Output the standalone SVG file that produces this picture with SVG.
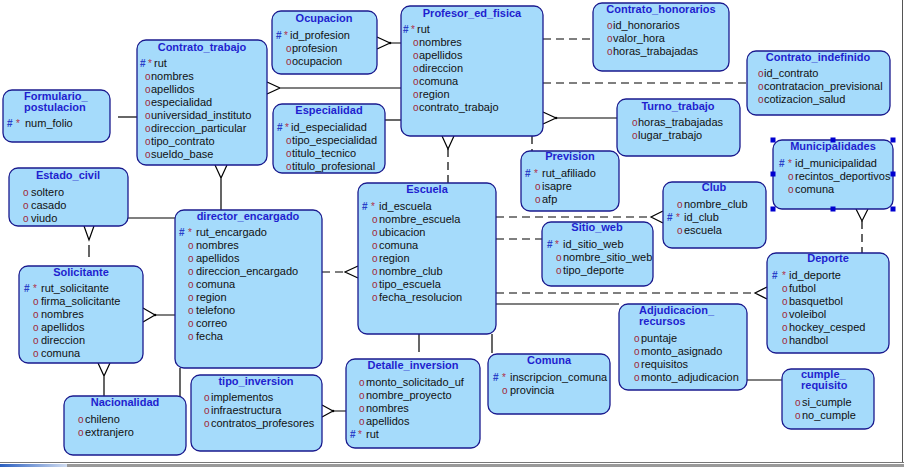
<svg xmlns="http://www.w3.org/2000/svg" width="904" height="467" viewBox="0 0 904 467">
<defs>
<style>
.box rect{fill:#a5dbfb;stroke:#1a1a8e;stroke-width:1.3}
.box rect.hd{fill:#0000d0;stroke:none}
.t{font:bold 11px "Liberation Sans",Arial,sans-serif;fill:#1f1fcf;text-anchor:middle}
.ts{font:bold 11px "Liberation Sans",Arial,sans-serif;fill:#1f1fcf}
.i{font:11px "Liberation Sans",Arial,sans-serif;fill:#111}
.h{fill:#2a3fc8;font-size:10px;font-weight:bold}
.s{fill:#b0304a;font-size:10px}
.o{fill:#a02838;font-size:10px}
.ln{stroke:#000;stroke-width:1.2;fill:none}
.d{stroke-dasharray:8 5}
.dot{fill:#000}
</style>
<linearGradient id="bg" x1="0" x2="1" y1="0" y2="0"><stop offset="0" stop-color="#2a5fc0"/><stop offset="1" stop-color="#d0dcf0"/></linearGradient>
</defs>
<rect x="0" y="0" width="904" height="467" fill="#fff"/>

<g id="connectors">
<path class="ln" d="M118 117H137"/>
<path class="ln" d="M267 82L280 88L267 94M280 88H401"/>
<path class="ln" d="M377 37L390 43L377 49M390 43H401"/><circle class="dot" cx="390" cy="43" r="1.3"/>
<path class="ln" d="M385 120H401"/>
<path class="ln" d="M442 136L448 149L454 136"/><path class="ln d" d="M448 149V183"/>
<path class="ln d" d="M543 39H593"/>
<path class="ln d" d="M543 83H747"/>
<path class="ln" d="M543 112L556 118L543 124M556 118H617"/><circle class="dot" cx="556" cy="118" r="1.3"/>
<path class="ln d" d="M532 136V151"/>
<path class="ln d" d="M496 217H651"/><path class="ln" d="M663 211L651 217L663 223"/>
<path class="ln d" d="M496 239H542"/>
<path class="ln d" d="M496 293H755"/><path class="ln" d="M767 287L755 293L767 299"/>
<path class="ln" d="M496 304H619"/>
<path class="ln d" d="M322 272H345"/><path class="ln" d="M358 266L345 272L358 278"/>
<path class="ln" d="M419 334V352"/>
<path class="ln" d="M492 334V353"/>
<path class="ln" d="M747 380H782"/>
<path class="ln" d="M856 209L862 221L868 209"/><path class="ln d" d="M862 221V253"/>
<path class="ln" d="M215 165L221 178L227 165M221 178V210"/>
<path class="ln" d="M128 218H175"/>
<path class="ln" d="M84 226L89 240L94 226M89 245V257"/>
<path class="ln" d="M143 308L155 315L143 322M155 315H175"/><circle class="dot" cx="155" cy="315" r="1.3"/>
<path class="ln" d="M98 363L104 376L110 363M104 376V396"/>
<path class="ln" d="M180 368V396"/>
<path class="ln" d="M322 405L333 411L322 417M333 411H346"/><circle class="dot" cx="333" cy="411" r="1.3"/>
</g>

<g id="formulario_postulacion" class="box">
<rect x="3" y="90" width="107" height="52" rx="9"/>
<text class="ts" x="24" y="100">Formulario_</text>
<text class="ts" x="24" y="111">postulacion</text>
<text class="i" y="127"><tspan class="h" x="7">#</tspan><tspan class="s" x="16">*</tspan><tspan x="25">num_folio</tspan></text>
</g>

<g id="contrato_trabajo" class="box">
<rect x="137" y="40" width="130" height="125" rx="9"/>
<text class="t" x="202" y="51">Contrato_trabajo</text>
<text class="i" y="67"><tspan class="h" x="140">#</tspan><tspan class="s" x="148">*</tspan><tspan x="154">rut</tspan></text>
<text class="i" y="80"><tspan class="o" x="145">o</tspan><tspan x="151">nombres</tspan></text>
<text class="i" y="93"><tspan class="o" x="145">o</tspan><tspan x="151">apellidos</tspan></text>
<text class="i" y="106"><tspan class="o" x="145">o</tspan><tspan x="151">especialidad</tspan></text>
<text class="i" y="119"><tspan class="o" x="145">o</tspan><tspan x="151">universidad_instituto</tspan></text>
<text class="i" y="132"><tspan class="o" x="145">o</tspan><tspan x="151">direccion_particular</tspan></text>
<text class="i" y="145"><tspan class="o" x="145">o</tspan><tspan x="151">tipo_contrato</tspan></text>
<text class="i" y="158"><tspan class="o" x="145">o</tspan><tspan x="151">sueldo_base</tspan></text>
</g>

<g id="ocupacion" class="box">
<rect x="272" y="11" width="105" height="63" rx="9"/>
<text class="t" x="324" y="22">Ocupacion</text>
<text class="i" y="39"><tspan class="h" x="276">#</tspan><tspan class="s" x="284">*</tspan><tspan x="290">id_profesion</tspan></text>
<text class="i" y="52"><tspan class="o" x="286">o</tspan><tspan x="292">profesion</tspan></text>
<text class="i" y="65"><tspan class="o" x="286">o</tspan><tspan x="292">ocupacion</tspan></text>
</g>

<g id="profesor_ed_fisica" class="box">
<rect x="401" y="6" width="142" height="130" rx="9"/>
<text class="t" x="472" y="17">Profesor_ed_fisica</text>
<text class="i" y="33"><tspan class="h" x="403">#</tspan><tspan class="s" x="411">*</tspan><tspan x="417">rut</tspan></text>
<text class="i" y="46"><tspan class="o" x="413">o</tspan><tspan x="419">nombres</tspan></text>
<text class="i" y="59"><tspan class="o" x="413">o</tspan><tspan x="419">apellidos</tspan></text>
<text class="i" y="72"><tspan class="o" x="413">o</tspan><tspan x="419">direccion</tspan></text>
<text class="i" y="85"><tspan class="o" x="413">o</tspan><tspan x="419">comuna</tspan></text>
<text class="i" y="98"><tspan class="o" x="413">o</tspan><tspan x="419">region</tspan></text>
<text class="i" y="111"><tspan class="o" x="413">o</tspan><tspan x="419">contrato_trabajo</tspan></text>
</g>

<g id="especialidad" class="box">
<rect x="273" y="104" width="112" height="69" rx="9"/>
<text class="t" x="329" y="114">Especialidad</text>
<text class="i" y="131"><tspan class="h" x="277">#</tspan><tspan class="s" x="285">*</tspan><tspan x="291">id_especialidad</tspan></text>
<text class="i" y="144"><tspan class="o" x="286">o</tspan><tspan x="292">tipo_especialidad</tspan></text>
<text class="i" y="157"><tspan class="o" x="286">o</tspan><tspan x="292">titulo_tecnico</tspan></text>
<text class="i" y="170"><tspan class="o" x="286">o</tspan><tspan x="292">titulo_profesional</tspan></text>
</g>

<g id="contrato_honorarios" class="box">
<rect x="593" y="3" width="136" height="68" rx="9"/>
<text class="t" x="661" y="13">Contrato_honorarios</text>
<text class="i" y="29"><tspan class="o" x="607">o</tspan><tspan x="613">id_honorarios</tspan></text>
<text class="i" y="42"><tspan class="o" x="607">o</tspan><tspan x="613">valor_hora</tspan></text>
<text class="i" y="55"><tspan class="o" x="607">o</tspan><tspan x="613">horas_trabajadas</tspan></text>
</g>

<g id="contrato_indefinido" class="box">
<rect x="747" y="51" width="143" height="64" rx="9"/>
<text class="t" x="818" y="61">Contrato_indefinido</text>
<text class="i" y="77"><tspan class="o" x="758">o</tspan><tspan x="764">id_contrato</tspan></text>
<text class="i" y="90"><tspan class="o" x="758">o</tspan><tspan x="764">contratacion_previsional</tspan></text>
<text class="i" y="103"><tspan class="o" x="758">o</tspan><tspan x="764">cotizacion_salud</tspan></text>
</g>

<g id="turno_trabajo" class="box">
<rect x="617" y="99" width="123" height="57" rx="9"/>
<text class="t" x="678" y="110">Turno_trabajo</text>
<text class="i" y="126"><tspan class="o" x="632">o</tspan><tspan x="638">horas_trabajadas</tspan></text>
<text class="i" y="139"><tspan class="o" x="632">o</tspan><tspan x="638">lugar_trabajo</tspan></text>
</g>

<g id="municipalidades" class="box">
<rect x="773" y="140" width="120" height="69" rx="9"/>
<text class="t" x="833" y="150">Municipalidades</text>
<text class="i" y="167"><tspan class="h" x="779">#</tspan><tspan class="s" x="788">*</tspan><tspan x="795">id_municipalidad</tspan></text>
<text class="i" y="180"><tspan class="o" x="788">o</tspan><tspan x="795">recintos_deportivos</tspan></text>
<text class="i" y="193"><tspan class="o" x="788">o</tspan><tspan x="795">comuna</tspan></text>
<rect class="hd" x="770.5" y="137.5" width="5" height="5"/>
<rect class="hd" x="830.5" y="137.5" width="5" height="5"/>
<rect class="hd" x="890.5" y="137.5" width="5" height="5"/>
<rect class="hd" x="770.5" y="171.5" width="5" height="5"/>
<rect class="hd" x="890.5" y="171.5" width="5" height="5"/>
<rect class="hd" x="770.5" y="206.5" width="5" height="5"/>
<rect class="hd" x="830.5" y="206.5" width="5" height="5"/>
<rect class="hd" x="890.5" y="206.5" width="5" height="5"/>
</g>

<g id="club" class="box">
<rect x="663" y="182" width="103" height="66" rx="9"/>
<text class="t" x="714" y="191">Club</text>
<text class="i" y="208"><tspan class="o" x="677">o</tspan><tspan x="684">nombre_club</tspan></text>
<text class="i" y="221"><tspan class="h" x="667">#</tspan><tspan class="s" x="676">*</tspan><tspan x="684">id_club</tspan></text>
<text class="i" y="234"><tspan class="o" x="677">o</tspan><tspan x="684">escuela</tspan></text>
</g>

<g id="deporte" class="box">
<rect x="767" y="253" width="122" height="100" rx="9"/>
<text class="t" x="828" y="262">Deporte</text>
<text class="i" y="279"><tspan class="h" x="772">#</tspan><tspan class="s" x="782">*</tspan><tspan x="789">id_deporte</tspan></text>
<text class="i" y="292"><tspan class="o" x="782">o</tspan><tspan x="789">futbol</tspan></text>
<text class="i" y="305"><tspan class="o" x="782">o</tspan><tspan x="789">basquetbol</tspan></text>
<text class="i" y="318"><tspan class="o" x="782">o</tspan><tspan x="789">voleibol</tspan></text>
<text class="i" y="331"><tspan class="o" x="782">o</tspan><tspan x="789">hockey_cesped</tspan></text>
<text class="i" y="344"><tspan class="o" x="782">o</tspan><tspan x="789">handbol</tspan></text>
</g>

<g id="prevision" class="box">
<rect x="521" y="151" width="98" height="60" rx="9"/>
<text class="t" x="570" y="160">Prevision</text>
<text class="i" y="177"><tspan class="h" x="525">#</tspan><tspan class="s" x="534">*</tspan><tspan x="542">rut_afiliado</tspan></text>
<text class="i" y="190"><tspan class="o" x="535">o</tspan><tspan x="542">isapre</tspan></text>
<text class="i" y="203"><tspan class="o" x="535">o</tspan><tspan x="542">afp</tspan></text>
</g>

<g id="sitio_web" class="box">
<rect x="542" y="222" width="111" height="64" rx="9"/>
<text class="t" x="597" y="231">Sitio_web</text>
<text class="i" y="248"><tspan class="h" x="547">#</tspan><tspan class="s" x="555">*</tspan><tspan x="563">id_sitio_web</tspan></text>
<text class="i" y="261"><tspan class="o" x="556">o</tspan><tspan x="563">nombre_sitio_web</tspan></text>
<text class="i" y="274"><tspan class="o" x="556">o</tspan><tspan x="563">tipo_deporte</tspan></text>
</g>

<g id="escuela" class="box">
<rect x="358" y="183" width="138" height="151" rx="9"/>
<text class="t" x="427" y="193">Escuela</text>
<text class="i" y="210"><tspan class="h" x="362">#</tspan><tspan class="s" x="371">*</tspan><tspan x="379">id_escuela</tspan></text>
<text class="i" y="223"><tspan class="o" x="372">o</tspan><tspan x="379">nombre_escuela</tspan></text>
<text class="i" y="236"><tspan class="o" x="372">o</tspan><tspan x="379">ubicacion</tspan></text>
<text class="i" y="249"><tspan class="o" x="372">o</tspan><tspan x="379">comuna</tspan></text>
<text class="i" y="262"><tspan class="o" x="372">o</tspan><tspan x="379">region</tspan></text>
<text class="i" y="275"><tspan class="o" x="372">o</tspan><tspan x="379">nombre_club</tspan></text>
<text class="i" y="288"><tspan class="o" x="372">o</tspan><tspan x="379">tipo_escuela</tspan></text>
<text class="i" y="301"><tspan class="o" x="372">o</tspan><tspan x="379">fecha_resolucion</tspan></text>
</g>

<g id="adjudicacion_recursos" class="box">
<rect x="619" y="304" width="128" height="86" rx="9"/>
<text class="ts" x="639" y="314">Adjudicacion_</text>
<text class="ts" x="639" y="325">recursos</text>
<text class="i" y="342"><tspan class="o" x="634">o</tspan><tspan x="641">puntaje</tspan></text>
<text class="i" y="355"><tspan class="o" x="634">o</tspan><tspan x="641">monto_asignado</tspan></text>
<text class="i" y="368"><tspan class="o" x="634">o</tspan><tspan x="641">requisitos</tspan></text>
<text class="i" y="381"><tspan class="o" x="634">o</tspan><tspan x="641">monto_adjudicacion</tspan></text>
</g>

<g id="cumple_requisito" class="box">
<rect x="782" y="369" width="92" height="60" rx="9"/>
<text class="ts" x="801" y="378">cumple_</text>
<text class="ts" x="801" y="389">requisito</text>
<text class="i" y="406"><tspan class="o" x="795">o</tspan><tspan x="802">si_cumple</tspan></text>
<text class="i" y="419"><tspan class="o" x="795">o</tspan><tspan x="802">no_cumple</tspan></text>
</g>

<g id="comuna" class="box">
<rect x="488" y="354" width="122" height="60" rx="9"/>
<text class="t" x="549" y="364">Comuna</text>
<text class="i" y="381"><tspan class="h" x="493">#</tspan><tspan class="s" x="502">*</tspan><tspan x="510">inscripcion_comuna</tspan></text>
<text class="i" y="394"><tspan class="o" x="502">o</tspan><tspan x="510">provincia</tspan></text>
</g>

<g id="detalle_inversion" class="box">
<rect x="346" y="359" width="134" height="89" rx="9"/>
<text class="t" x="413" y="369">Detalle_inversion</text>
<text class="i" y="386"><tspan class="o" x="359">o</tspan><tspan x="366">monto_solicitado_uf</tspan></text>
<text class="i" y="399"><tspan class="o" x="359">o</tspan><tspan x="366">nombre_proyecto</tspan></text>
<text class="i" y="412"><tspan class="o" x="359">o</tspan><tspan x="366">nombres</tspan></text>
<text class="i" y="425"><tspan class="o" x="359">o</tspan><tspan x="366">apellidos</tspan></text>
<text class="i" y="438"><tspan class="h" x="350">#</tspan><tspan class="s" x="358">*</tspan><tspan x="366">rut</tspan></text>
</g>

<g id="tipo_inversion" class="box">
<rect x="191" y="375" width="131" height="76" rx="9"/>
<text class="t" x="256" y="385">tipo_inversion</text>
<text class="i" y="401"><tspan class="o" x="204">o</tspan><tspan x="211">implementos</tspan></text>
<text class="i" y="414"><tspan class="o" x="204">o</tspan><tspan x="211">infraestructura</tspan></text>
<text class="i" y="427"><tspan class="o" x="204">o</tspan><tspan x="211">contratos_profesores</tspan></text>
</g>

<g id="nacionalidad" class="box">
<rect x="64" y="396" width="122" height="59" rx="9"/>
<text class="t" x="125" y="406">Nacionalidad</text>
<text class="i" y="423"><tspan class="o" x="78">o</tspan><tspan x="85">chileno</tspan></text>
<text class="i" y="436"><tspan class="o" x="78">o</tspan><tspan x="85">extranjero</tspan></text>
</g>

<g id="director_encargado" class="box">
<rect x="175" y="210" width="147" height="158" rx="9"/>
<text class="t" x="248" y="220">director_encargado</text>
<text class="i" y="236"><tspan class="h" x="179">#</tspan><tspan class="s" x="188">*</tspan><tspan x="196">rut_encargado</tspan></text>
<text class="i" y="249"><tspan class="o" x="188">o</tspan><tspan x="196">nombres</tspan></text>
<text class="i" y="262"><tspan class="o" x="188">o</tspan><tspan x="196">apellidos</tspan></text>
<text class="i" y="275"><tspan class="o" x="188">o</tspan><tspan x="196">direccion_encargado</tspan></text>
<text class="i" y="288"><tspan class="o" x="188">o</tspan><tspan x="196">comuna</tspan></text>
<text class="i" y="301"><tspan class="o" x="188">o</tspan><tspan x="196">region</tspan></text>
<text class="i" y="314"><tspan class="o" x="188">o</tspan><tspan x="196">telefono</tspan></text>
<text class="i" y="327"><tspan class="o" x="188">o</tspan><tspan x="196">correo</tspan></text>
<text class="i" y="340"><tspan class="o" x="188">o</tspan><tspan x="196">fecha</tspan></text>
</g>

<g id="estado_civil" class="box">
<rect x="9" y="168" width="119" height="58" rx="9"/>
<text class="t" x="68" y="179">Estado_civil</text>
<text class="i" y="196"><tspan class="o" x="23">o</tspan><tspan x="31">soltero</tspan></text>
<text class="i" y="209"><tspan class="o" x="23">o</tspan><tspan x="31">casado</tspan></text>
<text class="i" y="222"><tspan class="o" x="23">o</tspan><tspan x="31">viudo</tspan></text>
</g>

<g id="solicitante" class="box">
<rect x="19" y="266" width="124" height="97" rx="9"/>
<text class="t" x="81" y="276">Solicitante</text>
<text class="i" y="292"><tspan class="h" x="24">#</tspan><tspan class="s" x="33">*</tspan><tspan x="41">rut_solicitante</tspan></text>
<text class="i" y="305"><tspan class="o" x="33">o</tspan><tspan x="41">firma_solicitante</tspan></text>
<text class="i" y="318"><tspan class="o" x="33">o</tspan><tspan x="41">nombres</tspan></text>
<text class="i" y="331"><tspan class="o" x="33">o</tspan><tspan x="41">apellidos</tspan></text>
<text class="i" y="344"><tspan class="o" x="33">o</tspan><tspan x="41">direccion</tspan></text>
<text class="i" y="357"><tspan class="o" x="33">o</tspan><tspan x="41">comuna</tspan></text>
</g>

<g id="frame">
<path d="M902.5 0V462" stroke="#555" stroke-width="1"/>
<path d="M0 462.5H904" stroke="#777" stroke-width="1"/>
<rect x="67" y="464" width="837" height="3" fill="#999"/>
<rect x="0" y="464" width="67" height="3" fill="url(#bg)"/>
</g>
</svg>
